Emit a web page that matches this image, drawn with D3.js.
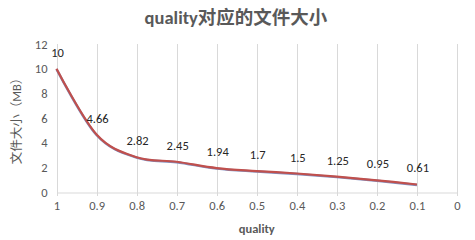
<!DOCTYPE html>
<html><head><meta charset="utf-8">
<script src="https://cdn.jsdelivr.net/npm/d3@7"></script>
<style>body{margin:0;background:#fff;}svg{display:block;}</style>
</head><body>
<script>
const quality = [1, 0.9, 0.8, 0.7, 0.6, 0.5, 0.4, 0.3, 0.2, 0.1];
const sizeMB = [10, 4.66, 2.82, 2.45, 1.94, 1.7, 1.5, 1.25, 0.95, 0.61];
const xTicks = [1, 0.9, 0.8, 0.7, 0.6, 0.5, 0.4, 0.3, 0.2, 0.1, 0];
const yTicks = [0, 2, 4, 6, 8, 10, 12];
const title = "quality对应的文件大小";
const xTitle = "quality";
const yTitle = "文件大小（MB）";

const W = 475, H = 240;
const m = {left: 56.5, right: 18, top: 44, bottom: 48};
const svg = d3.select("body").append("svg").attr("width", W).attr("height", H);
const font = "Calibri, Carlito, 'Noto Sans CJK SC', 'Liberation Sans', sans-serif";
const grey = "#595959";
const fs = 12.5;

const x = d3.scaleLinear().domain([1, 0]).range([m.left, W - m.right]);
const y = d3.scaleLinear().domain([0, 12]).range([H - m.bottom, m.top]);

// vertical gridlines
svg.append("g").selectAll("line").data(xTicks).join("line")
  .attr("x1", d => Math.round(x(d)) + 0.5).attr("x2", d => Math.round(x(d)) + 0.5)
  .attr("y1", y(12)).attr("y2", y(0) + 4)
  .attr("stroke", "#d9d9d9").attr("stroke-width", 1);

// x axis
const xa = svg.append("g").attr("transform", `translate(0,${Math.round(y(0)) + 0.5})`)
  .call(d3.axisBottom(x).tickValues(xTicks).tickFormat(d => d3.format("")(d)).tickSize(0).tickPadding(9));
xa.select(".domain").attr("stroke", "#d9d9d9");
xa.selectAll("text").attr("fill", grey).attr("font-size", fs).attr("font-family", font);

// y axis
const ya = svg.append("g").attr("transform", `translate(${m.left - 9},0)`)
  .call(d3.axisLeft(y).tickValues(yTicks).tickSize(0).tickPadding(0));
ya.select(".domain").remove();
ya.selectAll("text").attr("fill", grey).attr("font-size", fs).attr("font-family", font);

// lines
const line = d3.line().x((d, i) => x(quality[i])).y(d => y(d)).curve(d3.curveCardinal.tension(0));
svg.append("path").datum(sizeMB).attr("d", line).attr("fill", "none")
  .attr("stroke", "#8090c0").attr("stroke-width", 2.4).attr("transform", "translate(0,0.5)");
svg.append("path").datum(sizeMB).attr("d", line).attr("fill", "none")
  .attr("stroke", "#c0504d").attr("stroke-width", 2.2);

// data labels
svg.append("g").selectAll("text").data(sizeMB).join("text")
  .attr("x", (d, i) => x(quality[i]) + 1)
  .attr("y", d => y(d) - 12)
  .attr("text-anchor", "middle")
  .attr("font-size", fs).attr("font-family", font).attr("fill", "#262626")
  .text(d => d);

// title
svg.append("text").attr("x", 236).attr("y", 24).attr("text-anchor", "middle")
  .attr("font-size", 18.5).attr("font-weight", "bold").attr("font-family", font).attr("fill", grey)
  .text(title);

// x title
svg.append("text").attr("x", (x(1) + x(0)) / 2).attr("y", 233).attr("text-anchor", "middle")
  .attr("font-size", fs).attr("font-weight", "bold").attr("font-family", font).attr("fill", grey)
  .text(xTitle);

// y title
svg.append("text").attr("transform", `translate(21,${(y(0) + y(12)) / 2}) rotate(-90)`)
  .attr("text-anchor", "middle")
  .attr("font-size", 12.5).attr("font-family", font).attr("fill", grey)
  .text(yTitle);
</script>
</body></html>
